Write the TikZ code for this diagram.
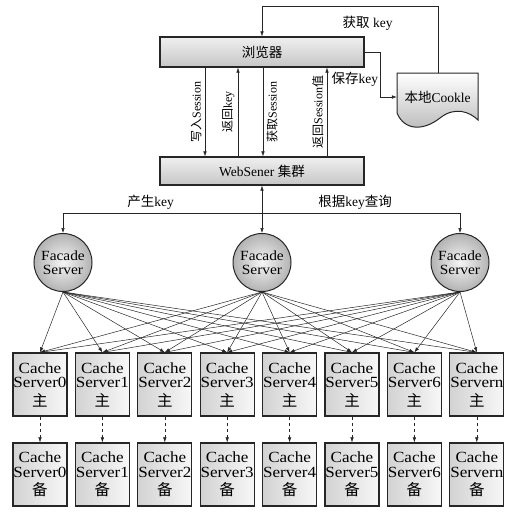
\documentclass[tikz,border=0pt]{standalone}
\usepackage{fontspec}
\setmainfont{Liberation Serif}
\newfontfamily\widefont{Liberation Serif}[FakeStretch=1.1]
\newfontfamily\cjkfont{Noto Sans CJK SC}
\newcommand{\zhtxt}[1]{{\cjkfont #1}}
\usepackage{tikz}
\usetikzlibrary{positioning,calc,arrows.meta}

\begin{document}
\begin{tikzpicture}[x=1pt, y=-1pt,
    arr/.style={-{Latex[length=5pt,width=3.5pt]}, line width=0.5pt, draw=black!85},
    dblarr/.style={{Latex[length=5pt,width=3.5pt]}-{Latex[length=5pt,width=3.5pt]}, line width=0.5pt, draw=black!85},
    dasharr/.style={arr, dashed},
    bar/.style={draw=black!85, line width=1.2pt, minimum width=204pt, inner sep=0pt, top color=gray!12, bottom color=gray!45, font=\fontsize{13.5}{15}\selectfont},
    facade/.style={circle, draw=black!85, line width=1pt, minimum size=58pt, inner sep=0pt, inner color=gray!8, outer color=gray!60, align=center, font=\widefont\fontsize{14}{13.5}\selectfont},
    cachebox/.style={draw=black!85, line width=1.2pt, minimum width=54pt, minimum height=63pt, inner sep=0pt, left color=gray!35, right color=gray!6, align=center, font=\widefont\fontsize{15.5}{14.5}\selectfont},
    lbl/.style={font=\fontsize{13.5}{15}\selectfont},
    vlbl/.style={font=\fontsize{12}{14}\selectfont, rotate=90}]
    \useasboundingbox (0,0) rectangle (515,512);

    \node [bar, minimum height=30pt] (browser) at (262,52) {\zhtxt{浏览器}};
    \node [bar, minimum height=28pt] (web) at (262,171) {WebSener \zhtxt{集群}};

    \draw [arr] ([xshift=-57pt]browser.south) -- ([xshift=-57pt]web.north) node [vlbl, midway, above] {\zhtxt{写入}Session};
    \draw [arr] ([xshift=-24pt]web.north) -- ([xshift=-24pt]browser.south) node [vlbl, midway, above] {\zhtxt{返回}key};
    \draw [arr] ([xshift=1pt]browser.south) -- ([xshift=1pt]web.north) node [vlbl, midway, below] {\zhtxt{获取}Session};
    \draw [arr] ([xshift=65pt]web.north) -- ([xshift=65pt]browser.south) node [vlbl, midway, above] {\zhtxt{返回}Session\zhtxt{值}};

    \draw [line width=1pt, draw=black!85, top color=white, bottom color=gray!55]
        (397,73) -- (478,73) -- (478,120) .. controls (470,112) and (455,106) .. (440,118)
        .. controls (425,130) and (405,132) .. (397,113) -- cycle;
    \coordinate (cktop) at (438,73);
    \node [lbl, minimum width=81pt, inner sep=0pt] (cookie) at (437.5,97) {\zhtxt{本地}Cookle};

    \draw [arr] (browser.east) -- ++(16,0) |- (cookie.west) node [lbl, pos=0.3, left=-1pt] {\zhtxt{保存}key};
    \draw [arr] (cktop) |- ([yshift=30pt]browser.north) node [lbl, pos=0.7, below=6pt] {\zhtxt{获取}\ key} -- (browser.north);

    \node [facade] (fs1) at (63,262.5) {Facade\\Server};
    \node [facade] (fs2) at (262,262.5) {Facade\\Server};
    \node [facade] (fs3) at (460,262.5) {Facade\\Server};

    \coordinate (split) at (262,213);
    \draw [arr] (split) -| (fs1.north) node [lbl, pos=0.28, above] {\zhtxt{产生}key};
    \draw [arr] (split) -| (fs3.north) node [lbl, pos=0.235, above] {\zhtxt{根据}key\zhtxt{查询}};
    \draw [dblarr] (web.south) -- (fs2.north);

    \foreach \i/\n in {0/0,1/1,2/2,3/3,4/4,5/5,6/6,7/n} {
        \node [cachebox] (pri\i) at ({40+62.4*\i},384.5) {Cache\\Server\n\\[4pt]\zhtxt{主}};
        \node [cachebox] (bak\i) at ({40+62.4*\i},474.5) {Cache\\Server\n\\[4pt]\zhtxt{备}};
        \draw [dasharr] (pri\i) -- (bak\i);
        \foreach \f in {1,2,3}
            \draw [arr] (fs\f.south) -- (pri\i.north);
    }
\end{tikzpicture}
\end{document}
